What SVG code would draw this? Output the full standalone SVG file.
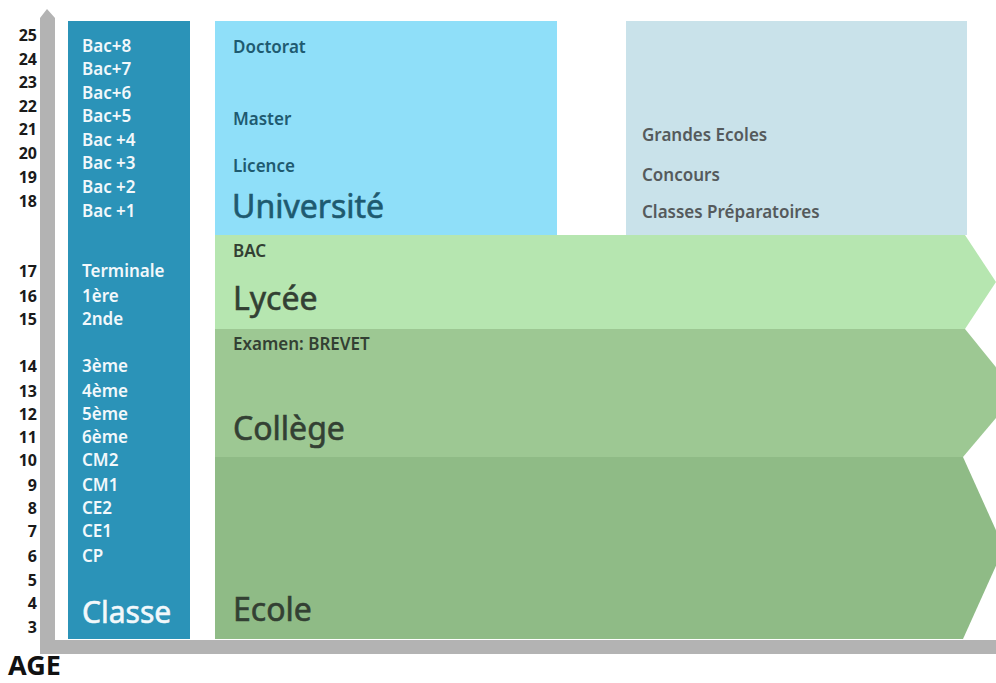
<svg xmlns="http://www.w3.org/2000/svg" width="996" height="683" viewBox="0 0 996 683">
<style>
text{font-family:"Noto Sans","DejaVu Sans",sans-serif}
.age{font-size:16px;font-weight:bold;fill:#1a1a1a;text-anchor:end}
.cls{font-size:17px;font-weight:600;fill:#f2f8fb}
.uni{font-size:17px;font-weight:600;fill:#1e5a70}
.ge{font-size:17px;font-weight:600;fill:#555a5c}
.grn{font-size:17px;font-weight:600;fill:#334033}
.bigU{font-size:32px;fill:#1e5a70;stroke:#1e5a70;stroke-width:0.6}
.bigG{font-size:32px;fill:#334033;stroke:#334033;stroke-width:0.6}
</style>
<rect width="996" height="683" fill="#ffffff"/>
<g id="axis">
<polygon points="40,18 47,9 55,18 55,640 996,640 996,654 40,654" fill="#b3b3b3"/>
<text x="8" y="675" style="font-size:27px;font-weight:bold;fill:#111">AGE</text>
</g>
<g id="ages">
<text class="age" x="37" y="41">25</text>
<text class="age" x="37" y="65">24</text>
<text class="age" x="37" y="88">23</text>
<text class="age" x="37" y="112">22</text>
<text class="age" x="37" y="135">21</text>
<text class="age" x="37" y="159">20</text>
<text class="age" x="37" y="183">19</text>
<text class="age" x="37" y="207">18</text>
<text class="age" x="37" y="277">17</text>
<text class="age" x="37" y="302">16</text>
<text class="age" x="37" y="325">15</text>
<text class="age" x="37" y="372">14</text>
<text class="age" x="37" y="397">13</text>
<text class="age" x="37" y="420">12</text>
<text class="age" x="37" y="443">11</text>
<text class="age" x="37" y="466">10</text>
<text class="age" x="37" y="491">9</text>
<text class="age" x="37" y="514">8</text>
<text class="age" x="37" y="537">7</text>
<text class="age" x="37" y="562">6</text>
<text class="age" x="37" y="586">5</text>
<text class="age" x="37" y="609">4</text>
<text class="age" x="37" y="633">3</text>
</g>
<g id="classe">
<rect x="68" y="21" width="122" height="618" fill="#2b93b8"/>
<text class="cls" x="82" y="52">Bac+8</text>
<text class="cls" x="82" y="75">Bac+7</text>
<text class="cls" x="82" y="99">Bac+6</text>
<text class="cls" x="82" y="122">Bac+5</text>
<text class="cls" x="82" y="146">Bac +4</text>
<text class="cls" x="82" y="169">Bac +3</text>
<text class="cls" x="82" y="193">Bac +2</text>
<text class="cls" x="82" y="217">Bac +1</text>
<text class="cls" x="82" y="277">Terminale</text>
<text class="cls" x="82" y="302">1ère</text>
<text class="cls" x="82" y="325">2nde</text>
<text class="cls" x="82" y="372">3ème</text>
<text class="cls" x="82" y="397">4ème</text>
<text class="cls" x="82" y="420">5ème</text>
<text class="cls" x="82" y="443">6ème</text>
<text class="cls" x="82" y="466">CM2</text>
<text class="cls" x="82" y="491">CM1</text>
<text class="cls" x="82" y="514">CE2</text>
<text class="cls" x="82" y="537">CE1</text>
<text class="cls" x="82" y="562">CP</text>
<text x="82" y="623" style="font-size:30px;fill:#f2f8fb;stroke:#f2f8fb;stroke-width:0.6">Classe</text>
</g>
<g id="universite">
<rect x="215" y="21" width="342" height="214" fill="#8fdff9"/>
<text class="uni" x="233" y="53">Doctorat</text>
<text class="uni" x="233" y="125">Master</text>
<text class="uni" x="233" y="172">Licence</text>
<text class="bigU" x="232" y="218">Université</text>
</g>
<g id="grandes-ecoles">
<rect x="626" y="21" width="341" height="214" fill="#c9e2ea"/>
<text class="ge" x="642" y="141">Grandes Ecoles</text>
<text class="ge" x="642" y="181">Concours</text>
<text class="ge" x="642" y="218">Classes Préparatoires</text>
</g>
<g id="lycee">
<polygon points="215,235 965,235 996,282 965,329 215,329" fill="#b6e6b0"/>
<text class="grn" x="233" y="257">BAC</text>
<text class="bigG" x="233" y="310">Lycée</text>
</g>
<g id="college">
<polygon points="215,329 965,329 1017,393 963,457 215,457" fill="#9dc893"/>
<text class="grn" x="233" y="350">Examen: BREVET</text>
<text class="bigG" x="233" y="440">Collège</text>
</g>
<g id="ecole">
<polygon points="215,457 963,457 1004,548 963,639 215,639" fill="#8fbb86"/>
<text class="bigG" x="233" y="621">Ecole</text>
</g>
<g id="connectors"/>
</svg>
